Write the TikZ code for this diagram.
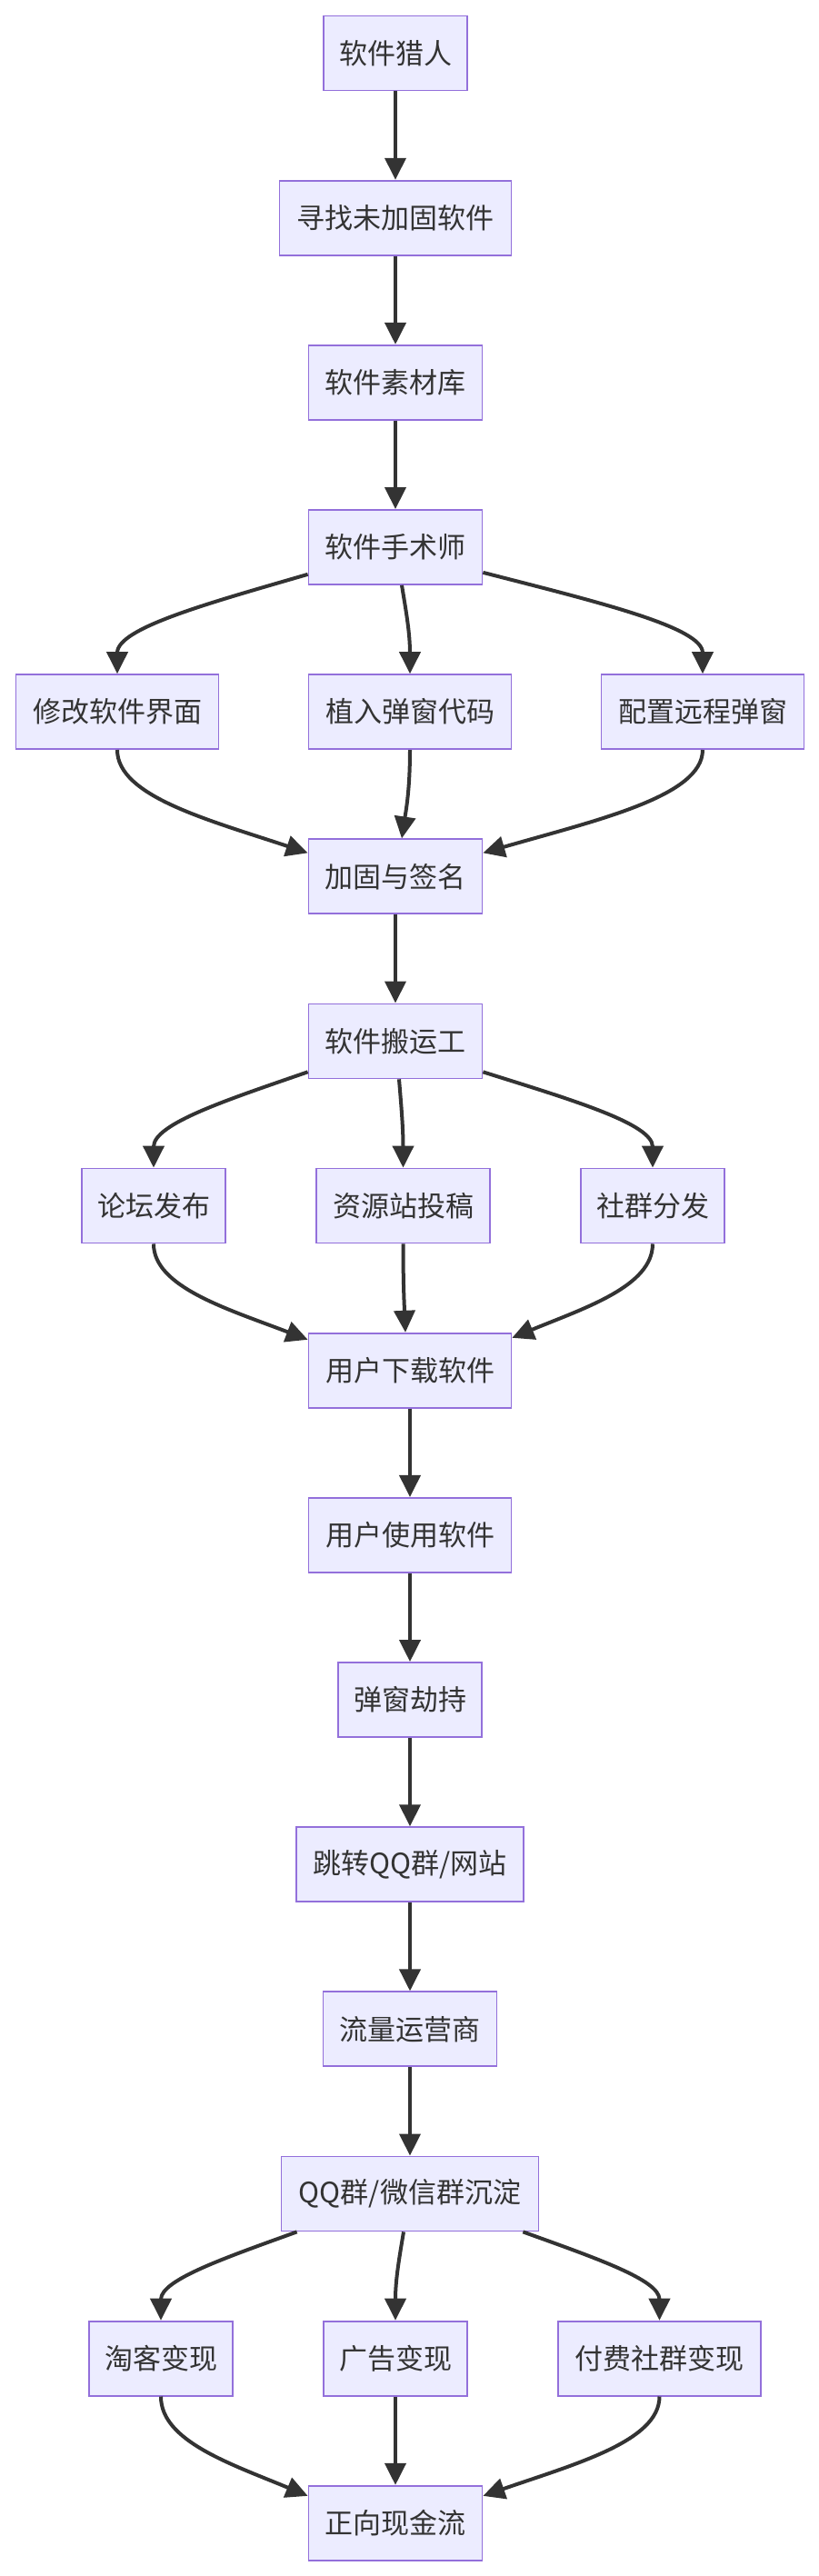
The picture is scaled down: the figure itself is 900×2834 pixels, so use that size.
\documentclass[tikz,border=0pt]{standalone}
\usepackage{fontspec}
\newfontfamily\cjk{Noto Sans CJK SC}
\usetikzlibrary{arrows.meta,calc,positioning}
\definecolor{boxfill}{HTML}{ECECFF}
\definecolor{boxline}{HTML}{9370DB}
\definecolor{ink}{HTML}{333333}
\tikzset{
  fbox/.style={draw=boxline, fill=boxfill, line width=1.8pt, minimum height=82pt,
    inner sep=0pt, text=ink, font=\cjk\fontsize{31}{37}\selectfont},
  arr/.style={draw=ink, line width=4pt, -{Triangle[length=24pt,width=23pt]}},
}
\newcommand\splitedge[2]{\draw[arr] let \p1=(#1), \p2=(#2) in (\p1) .. controls ({\x1+0.52*(\x2-\x1)},{\y1+0.29*(\y2-\y1)}) and (\x2,{\y2-0.46*(\y2-\y1)}) .. (\p2);}
\newcommand\mergeedge[2]{\draw[arr] let \p1=(#1), \p2=(#2) in (\p1) .. controls (\x1,{\y1+0.45*(\y2-\y1)}) and ({\x2-0.52*(\x2-\x1)},{\y2-0.32*(\y2-\y1)}) .. (\p2);}
\begin{document}
\begin{tikzpicture}[x=1pt,y=-1pt]
\fill[white] (0,0) rectangle (900,2834);
\useasboundingbox (0,0) rectangle (900,2834);
\def\ry#1{58.5+181.15*#1}
\node[fbox, minimum width=158pt] (n1) at (435,{\ry{0}}) {软件猎人};
\node[fbox, minimum width=255pt] (n2) at (435,{\ry{1}}) {寻找未加固软件};
\node[fbox, minimum width=191pt] (n3) at (435,{\ry{2}}) {软件素材库};
\node[fbox, minimum width=191pt] (n4) at (435,{\ry{3}}) {软件手术师};
\node[fbox, minimum width=223pt] (n5a) at (129,{\ry{4}}) {修改软件界面};
\node[fbox, minimum width=223pt] (n5b) at (451,{\ry{4}}) {植入弹窗代码};
\node[fbox, minimum width=223pt] (n5c) at (773,{\ry{4}}) {配置远程弹窗};
\node[fbox, minimum width=191pt] (n6) at (435,{\ry{5}}) {加固与签名};
\node[fbox, minimum width=191pt] (n7) at (435,{\ry{6}}) {软件搬运工};
\node[fbox, minimum width=158pt] (n8a) at (169,{\ry{7}}) {论坛发布};
\node[fbox, minimum width=191pt] (n8b) at (443.5,{\ry{7}}) {资源站投稿};
\node[fbox, minimum width=158pt] (n8c) at (718,{\ry{7}}) {社群分发};
\node[fbox, minimum width=223pt] (n9) at (451,{\ry{8}}) {用户下载软件};
\node[fbox, minimum width=223pt] (n10) at (451,{\ry{9}}) {用户使用软件};
\node[fbox, minimum width=158pt] (n11) at (451,{\ry{10}}) {弹窗劫持};
\node[fbox, minimum width=250pt] (n12) at (451,{\ry{11}}) {跳转QQ群/网站};
\node[fbox, minimum width=191pt] (n13) at (451,{\ry{12}}) {流量运营商};
\node[fbox, minimum width=283pt] (n14) at (451,{\ry{13}}) {QQ群/微信群沉淀};
\node[fbox, minimum width=158pt] (n15a) at (177,{\ry{14}}) {淘客变现};
\node[fbox, minimum width=158pt] (n15b) at (435,{\ry{14}}) {广告变现};
\node[fbox, minimum width=223pt] (n15c) at (725.5,{\ry{14}}) {付费社群变现};
\node[fbox, minimum width=191pt] (n16) at (435,{\ry{15}}) {正向现金流};
% straight edges
\draw[arr] (n1) -- (n2);
\draw[arr] (n2) -- (n3);
\draw[arr] (n3) -- (n4);
\draw[arr] (n6) -- (n7);
\draw[arr] (n9) -- (n10);
\draw[arr] (n10) -- (n11);
\draw[arr] (n11) -- (n12);
\draw[arr] (n12) -- (n13);
\draw[arr] (n13) -- (n14);
\draw[arr] (n15b) -- (n16);
% coordinates
\coordinate (s4l) at ($(n4.south west)+(0,-12)$);
\coordinate (s4m) at ($(n4.south)+(7,0)$);
\coordinate (s4r) at ($(n4.south east)+(0,-14)$);
\coordinate (e6l) at ($(n6.north west)+(0,16)$);
\coordinate (e6m) at ($(n6.north)+(7,0)$);
\coordinate (e6r) at ($(n6.north east)+(0,16)$);
\coordinate (s7l) at ($(n7.south west)+(0,-8)$);
\coordinate (s7m) at ($(n7.south)+(4,0)$);
\coordinate (s7r) at ($(n7.south east)+(0,-8)$);
\coordinate (e9l) at ($(n9.north west)+(0,8)$);
\coordinate (e9m) at ($(n9.north)+(-5,0)$);
\coordinate (e9r) at ($(n9.north east)+(0,6)$);
\coordinate (s14l) at ($(n14.south west)+(18,0)$);
\coordinate (s14m) at ($(n14.south)+(-7,0)$);
\coordinate (s14r) at ($(n14.south east)+(-18,0)$);
\coordinate (e16l) at ($(n16.north west)+(0,12)$);
\coordinate (e16r) at ($(n16.north east)+(0,12)$);
% splits and merges
\splitedge{s4l}{n5a.north}
\splitedge{s4m}{n5b.north}
\splitedge{s4r}{n5c.north}
\mergeedge{n5a.south}{e6l}
\mergeedge{n5b.south}{e6m}
\mergeedge{n5c.south}{e6r}
\splitedge{s7l}{n8a.north}
\splitedge{s7m}{n8b.north}
\splitedge{s7r}{n8c.north}
\mergeedge{n8a.south}{e9l}
\mergeedge{n8b.south}{e9m}
\mergeedge{n8c.south}{e9r}
\splitedge{s14l}{n15a.north}
\splitedge{s14m}{n15b.north}
\splitedge{s14r}{n15c.north}
\mergeedge{n15a.south}{e16l}
\mergeedge{n15c.south}{e16r}
\end{tikzpicture}
\end{document}
